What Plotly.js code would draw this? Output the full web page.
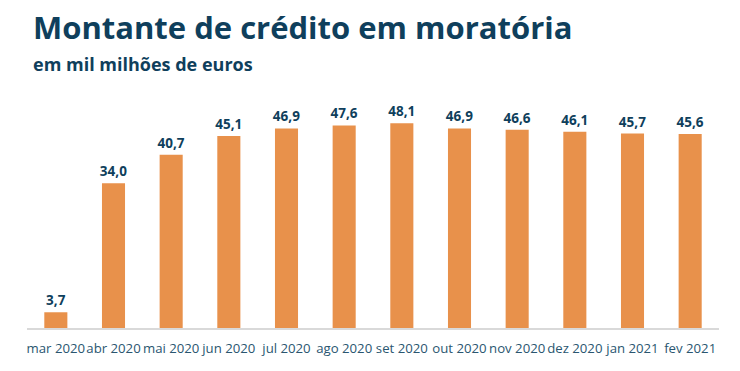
<!DOCTYPE html>
<html><head><meta charset="utf-8">
<script src="https://cdn.plot.ly/plotly-3.0.1.min.js"></script>
<style>html,body{margin:0;padding:0;background:#fff}#chart{width:740px;height:371px}</style>
</head><body><div id="chart"></div>
<script>
const categories = ["mar 2020","abr 2020","mai 2020","jun 2020","jul 2020","ago 2020","set 2020","out 2020","nov 2020","dez 2020","jan 2021","fev 2021"];
const values = [3.7,34.0,40.7,45.1,46.9,47.6,48.1,46.9,46.6,46.1,45.7,45.6];
const titleText = "Montante de crédito em moratória";
const subtitleText = "em mil milhões de euros";

const navy = "#0f3f5c";
const trace = {
  type: "bar", x: categories, y: values,
  marker: {color: "#E8914B"},
  texttemplate: "%{y:.1f}", textposition: "outside", cliponaxis: false, constraintext: "none",
  textfont: {family: "Open Sans", size: 13.5, color: navy, weight: 700},
  hoverinfo: "none"
};
const layout = {
  width: 740, height: 371,
  margin: {l: 27, r: 21, t: 93.5, b: 42.5},
  separators: ",.",
  bargap: 0.6,
  paper_bgcolor: "#fff", plot_bgcolor: "#fff",
  showlegend: false,
  font: {family: "Open Sans", color: "#2a5670"},
  xaxis: {type: "category", showgrid: false, showline: true, linecolor: "#d9d9d9", linewidth: 1.5,
          tickangle: 0, ticks: "outside", ticklen: 8, tickcolor: "rgba(0,0,0,0)", tickfont: {size: 13.2, color: "#2a5670"}},
  yaxis: {range: [0, 55], visible: false, showgrid: false, zeroline: false},
  annotations: [
    {text: titleText, xref: "paper", yref: "paper", x: 0.0056, y: 1.288, xanchor: "left", yanchor: "middle",
     showarrow: false, font: {family: "Open Sans", size: 31, color: navy, weight: 700}},
    {text: subtitleText, xref: "paper", yref: "paper", x: 0.0056, y: 1.13, xanchor: "left", yanchor: "middle",
     showarrow: false, font: {family: "Open Sans", size: 18, color: navy, weight: 700}}
  ]
};
Plotly.newPlot("chart", [trace], layout, {displayModeBar: false, staticPlot: true});
</script></body></html>
